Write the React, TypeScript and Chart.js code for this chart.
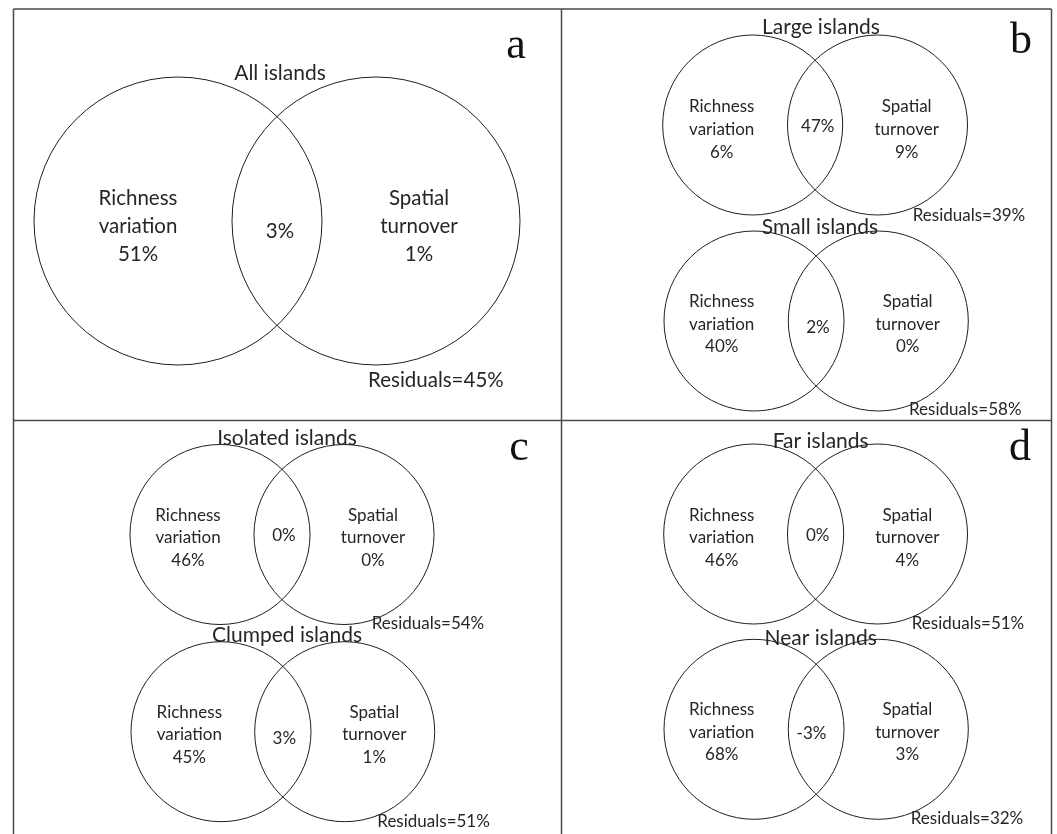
import React, { useEffect, useRef } from "react";
import { Chart, registerables } from "chart.js";

Chart.register(...registerables);

// ---- data ----
const panelLetters = ["a", "b", "c", "d"];
const diagramTitles = [
  "All islands",
  "Large islands",
  "Small islands",
  "Isolated islands",
  "Clumped islands",
  "Far islands",
  "Near islands",
];
const richnessValues = [51, 6, 40, 46, 45, 46, 68];
const sharedValues = [3, 47, 2, 0, 3, 0, -3];
const turnoverValues = [1, 9, 0, 0, 1, 4, 3];
const residualValues = [45, 39, 58, 54, 51, 51, 32];
const richnessLabel = ["Richness", "variation"];
const turnoverLabel = ["Spatial", "turnover"];

// ---- layout (figure units, 0..1057 x 0..834) ----
const FIG_W = 1057;
const FIG_H = 834;
type P = { x: number; y: number };
type Layout = {
  left: P; right: P; r: number; title: P; titleSize: number;
  labelSize: number; gap: number; rich: P; shared: P; turn: P; resid: P;
};
const diagramLayout: Layout[] = [
  { left: { x: 178, y: 221 }, right: { x: 376, y: 221 }, r: 144, title: { x: 280, y: 73 }, titleSize: 21,
    labelSize: 20.5, gap: 28, rich: { x: 138, y: 226 }, shared: { x: 280, y: 231 }, turn: { x: 419, y: 226 }, resid: { x: 368, y: 380 } },
  { left: { x: 752.7, y: 125 }, right: { x: 877.5, y: 125 }, r: 90, title: { x: 821, y: 27 }, titleSize: 21,
    labelSize: 17, gap: 23, rich: { x: 721.7, y: 130 }, shared: { x: 817.7, y: 127 }, turn: { x: 906.7, y: 130 }, resid: { x: 912.7, y: 216 } },
  { left: { x: 754, y: 321 }, right: { x: 878.3, y: 321 }, r: 90, title: { x: 820, y: 227 }, titleSize: 21,
    labelSize: 17, gap: 22.5, rich: { x: 721.7, y: 324.5 }, shared: { x: 818, y: 328 }, turn: { x: 907.7, y: 324.5 }, resid: { x: 909, y: 410 } },
  { left: { x: 220, y: 534.5 }, right: { x: 344, y: 534.5 }, r: 90, title: { x: 287, y: 438 }, titleSize: 21,
    labelSize: 17, gap: 22.5, rich: { x: 188, y: 538 }, shared: { x: 284, y: 536 }, turn: { x: 373, y: 538 }, resid: { x: 371.7, y: 624 } },
  { left: { x: 221, y: 731.7 }, right: { x: 344.7, y: 731.7 }, r: 90, title: { x: 287, y: 635 }, titleSize: 21,
    labelSize: 17, gap: 22.5, rich: { x: 189.3, y: 735 }, shared: { x: 284.3, y: 738.3 }, turn: { x: 374.3, y: 735 }, resid: { x: 377.3, y: 821.7 } },
  { left: { x: 753.7, y: 534 }, right: { x: 877.5, y: 534 }, r: 90, title: { x: 820.7, y: 441.7 }, titleSize: 21,
    labelSize: 17, gap: 22.5, rich: { x: 721.7, y: 538 }, shared: { x: 817.7, y: 535.7 }, turn: { x: 907.3, y: 538 }, resid: { x: 911.7, y: 624 } },
  { left: { x: 754, y: 729.3 }, right: { x: 878.3, y: 729.3 }, r: 90, title: { x: 820.7, y: 638.3 }, titleSize: 21,
    labelSize: 17, gap: 22.5, rich: { x: 721.7, y: 732.3 }, shared: { x: 811.5, y: 734 }, turn: { x: 907.3, y: 732.3 }, resid: { x: 910.7, y: 818.3 } },
];
const letterLayout: P[] = [
  { x: 516, y: 58 },
  { x: 1021, y: 53 },
  { x: 519, y: 460 },
  { x: 1020, y: 460 },
];
const frameLines: [number, number, number, number][] = [
  [13.5, 9, 1051.5, 9],
  [13.5, 9, 13.5, 840],
  [1051.5, 9, 1051.5, 840],
  [561.5, 9, 561.5, 840],
  [13.5, 420.5, 1051.5, 420.5],
];

const TEXT_FONT = "Lato, 'Open Sans', sans-serif";
const TEXT_COLOR = "#262626";

const circlePoints = diagramLayout.flatMap((d) => [d.left, d.right]);
const circleRadii = diagramLayout.flatMap((d) => [d.r, d.r]);

const vennPlugin = {
  id: "vennText",
  beforeDatasetsDraw(chart: any) {
    const { ctx, scales } = chart;
    const X = (v: number) => scales.x.getPixelForValue(v);
    const Y = (v: number) => scales.y.getPixelForValue(v);
    ctx.save();
    ctx.strokeStyle = "#4a4a4a";
    ctx.lineWidth = 1.5;
    frameLines.forEach(([x1, y1, x2, y2]) => {
      ctx.beginPath();
      ctx.moveTo(X(x1), Y(y1));
      ctx.lineTo(X(x2), Y(y2));
      ctx.stroke();
    });
    ctx.restore();
  },
  afterDatasetsDraw(chart: any) {
    const { ctx, scales } = chart;
    const X = (v: number) => scales.x.getPixelForValue(v);
    const Y = (v: number) => scales.y.getPixelForValue(v);
    ctx.save();
    ctx.fillStyle = TEXT_COLOR;
    diagramLayout.forEach((d, i) => {
      ctx.textAlign = "center";
      ctx.textBaseline = "middle";
      ctx.font = `${d.titleSize}px ${TEXT_FONT}`;
      ctx.fillText(diagramTitles[i], X(d.title.x), Y(d.title.y));
      ctx.font = `${d.labelSize}px ${TEXT_FONT}`;
      const richLines = [...richnessLabel, `${richnessValues[i]}%`];
      const turnLines = [...turnoverLabel, `${turnoverValues[i]}%`];
      richLines.forEach((t, k) => ctx.fillText(t, X(d.rich.x), Y(d.rich.y + (k - 1) * d.gap)));
      turnLines.forEach((t, k) => ctx.fillText(t, X(d.turn.x), Y(d.turn.y + (k - 1) * d.gap)));
      ctx.fillText(`${sharedValues[i]}%`, X(d.shared.x), Y(d.shared.y));
      ctx.textAlign = "left";
      ctx.fillText(`Residuals=${residualValues[i]}%`, X(d.resid.x), Y(d.resid.y));
    });
    ctx.font = `44px 'Liberation Serif', 'DejaVu Serif', serif`;
    ctx.textAlign = "center";
    ctx.textBaseline = "alphabetic";
    ctx.fillStyle = "#111";
    panelLetters.forEach((l, i) => ctx.fillText(l, X(letterLayout[i].x), Y(letterLayout[i].y)));
    ctx.restore();
  },
};

export default function App() {
  const ref = useRef<HTMLCanvasElement | null>(null);
  useEffect(() => {
    if (!ref.current) return;
    const chart = new Chart(ref.current, {
      type: "scatter",
      data: {
        datasets: [
          {
            label: "circles",
            data: circlePoints.map((p) => ({ x: p.x, y: p.y })),
            showLine: false,
            pointStyle: "circle",
            pointRadius: (c: any) => {
              const xs = c.chart.scales.x;
              return xs.getPixelForValue(circleRadii[c.dataIndex]) - xs.getPixelForValue(0);
            },
            pointBackgroundColor: "rgba(0,0,0,0)",
            pointBorderColor: "#1e1e1e",
            pointBorderWidth: 1,
            clip: false as any,
          },
        ],
      },
      options: {
        animation: false,
        responsive: false,
        devicePixelRatio: 1,
        events: [],
        layout: { padding: 0 },
        plugins: { legend: { display: false }, tooltip: { enabled: false } },
        scales: {
          x: { type: "linear", min: 0, max: FIG_W, display: false },
          y: { type: "linear", min: 0, max: FIG_H, reverse: true, display: false },
        },
      },
      plugins: [vennPlugin],
    });
    return () => chart.destroy();
  }, []);
  return (
    <div style={{ position: "absolute", left: 0, top: 0, width: FIG_W, height: FIG_H, background: "#fff" }}>
      <canvas ref={ref} width={FIG_W} height={FIG_H} style={{ display: "block" }} />
    </div>
  );
}
